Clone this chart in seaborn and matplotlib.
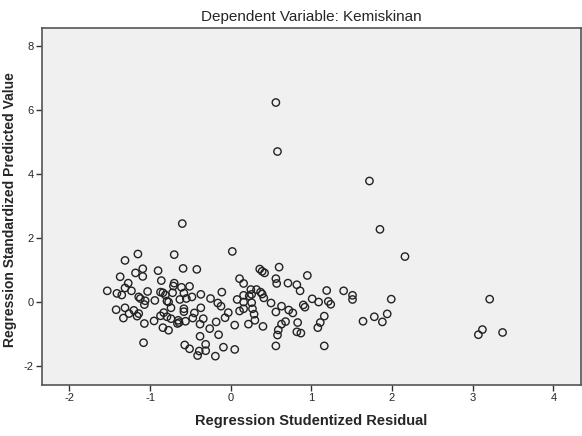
import numpy as np
import pandas as pd
import matplotlib
matplotlib.use("Agg")
import matplotlib.pyplot as plt
import seaborn as sns

# values (studentized residual, standardized predicted value)
resid_outer = [0.56, 0.58, 1.72, 1.85, 0.02, 2.16, 1.99, 1.94, 1.88, 3.21, 3.12, 3.07, 3.37,
               1.40, 1.51, 1.51, 1.78, 1.64, -0.60]
pred_outer = [6.23, 4.70, 3.78, 2.27, 1.58, 1.42, 0.09, -0.37, -0.62, 0.09, -0.86, -1.02, -0.95,
              0.35, 0.21, 0.08, -0.46, -0.60, 2.45]

resid_left = [-1.15, -1.31, -1.09, -1.18, -1.09, -1.37, -1.27, -1.31, -1.23, -1.03, -1.53, -1.41, -1.35,
              -1.14, -1.12, -1.06, -1.07, -1.42, -1.31, -1.20, -1.26, -1.14, -1.16, -1.33, -1.07, -1.08]
pred_left = [1.50, 1.30, 1.04, 0.91, 0.80, 0.79, 0.59, 0.44, 0.35, 0.33, 0.35, 0.27, 0.22,
             0.16, 0.11, 0.04, -0.08, -0.24, -0.18, -0.26, -0.36, -0.36, -0.44, -0.50, -0.67, -1.27]

resid_mid = [-0.70, -0.90, -0.59, -0.42, -0.86, -0.70, -0.71, -0.61, -0.51, -0.84, -0.87, -0.81, -0.72,
             -0.58, -0.37, -0.11, -0.94, -0.79, -0.77, -0.63, -0.55, -0.48, -0.25, -0.16, -0.12, 0.08,
             -0.74, -0.58, -0.58, -0.37, -0.83, -0.79, -0.87, -0.95, -0.74, -0.65, -0.64, -0.66, -0.56,
             -0.47, -0.45, -0.34, -0.38, -0.18, -0.07, -0.03, 0.05, -0.84, -0.77, -0.26, -0.38, -0.15,
             -0.57, -0.51, -0.39, -0.41, -0.31, -0.31, -0.19, -0.09, 0.05]
pred_mid = [1.48, 0.98, 1.05, 1.02, 0.67, 0.59, 0.50, 0.46, 0.49, 0.29, 0.31, 0.22, 0.29,
            0.28, 0.24, 0.31, 0.05, 0.03, 0.00, 0.08, 0.11, 0.16, 0.11, -0.03, -0.13, 0.08,
            -0.18, -0.21, -0.30, -0.18, -0.33, -0.46, -0.43, -0.59, -0.52, -0.57, -0.64, -0.67, -0.60,
            -0.50, -0.34, -0.52, -0.69, -0.62, -0.49, -0.33, -0.72, -0.80, -0.88, -0.83, -1.07, -1.02,
            -1.34, -1.46, -1.53, -1.67, -1.32, -1.52, -1.69, -1.41, -1.48]

resid_right = [0.36, 0.39, 0.42, 0.60, 0.95, 0.56, 0.57, 0.71, 0.82, 0.86, 0.11, 0.16, 0.25, 0.32,
               0.37, 0.39, 0.41, 0.16, 0.23, 0.26, 0.16, 0.26, 0.50, 0.16, 0.27, 0.11, 0.29, 0.30,
               0.22, 0.40, 0.56, 0.63, 0.72, 0.77, 0.68, 0.63, 0.59, 0.58, 0.56, 0.83, 0.82, 0.87,
               0.90, 0.92, 1.01, 1.09, 1.19, 1.21, 1.24, 1.16, 1.11, 1.08, 1.16]
pred_right = [1.03, 0.96, 0.91, 1.09, 0.83, 0.73, 0.58, 0.59, 0.54, 0.35, 0.73, 0.58, 0.39, 0.39,
              0.31, 0.25, 0.13, 0.21, 0.19, 0.24, 0.00, -0.02, -0.03, -0.21, -0.21, -0.28, -0.38, -0.57,
              -0.69, -0.76, -0.31, -0.13, -0.25, -0.34, -0.61, -0.69, -0.87, -1.03, -1.37, -0.64, -0.93, -0.97,
              -0.09, -0.16, 0.10, 0.00, 0.36, 0.02, -0.07, -0.44, -0.64, -0.80, -1.37]

df = pd.DataFrame({
    "resid": resid_outer + resid_left + resid_mid + resid_right,
    "pred": pred_outer + pred_left + pred_mid + pred_right,
})

sns.set_style("white")
plt.rcParams["font.family"] = ["Liberation Sans", "DejaVu Sans"]
plt.rcParams["axes.unicode_minus"] = False

fig = plt.figure(figsize=(5.82, 4.36), dpi=100)
ax = fig.add_axes([0.072, 0.117, 0.926, 0.819])
ax.set_facecolor("#f0f0f0")

sns.scatterplot(data=df, x="resid", y="pred", ax=ax, marker="o", s=28,
                facecolor="none", edgecolor="#222222", linewidth=1.0)

ax.set_xlim(-2.34, 4.34)
ax.set_ylim(-2.59, 8.56)
ax.set_xticks([-2, -1, 0, 1, 2, 3, 4])
ax.set_yticks([-2, 0, 2, 4, 6, 8])
ax.tick_params(direction="out", length=4, width=1, color="#333333", labelsize=8, pad=2,
               bottom=True, left=True)
for sp in ax.spines.values():
    sp.set_color("#555555")
    sp.set_linewidth(1.2)

ax.set_title("Dependent Variable: Kemiskinan", fontsize=11, pad=5)
ax.set_xlabel("Regression Studentized Residual", fontsize=10.5, fontweight="bold", labelpad=8)
ax.set_ylabel("Regression Standardized Predicted Value", fontsize=10, fontweight="bold")
ax.yaxis.set_label_coords(-0.046, 0.49)

fig.savefig("out.png", dpi=100)
